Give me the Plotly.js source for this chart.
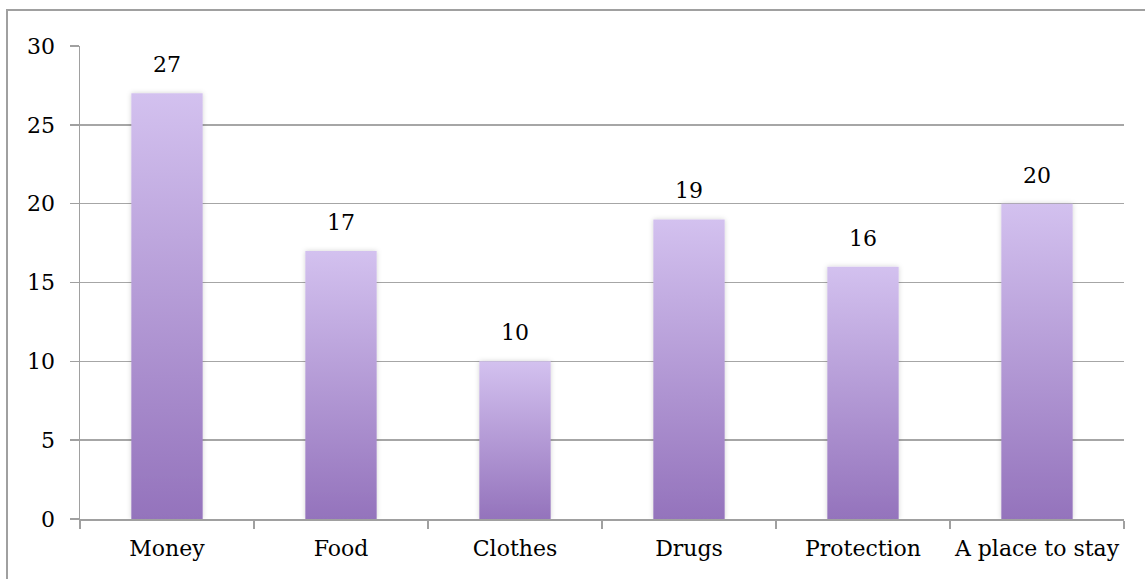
<!DOCTYPE html>
<html>
<head>
<meta charset="utf-8">
<script src="https://cdn.plot.ly/plotly-3.0.1.min.js"></script>
<style>
  html, body { margin: 0; padding: 0; background: #fff; }
  #wrap { position: relative; width: 1145px; height: 579px; overflow: hidden; }
  #frame { position: absolute; left: 6px; top: 9px; width: 1200px; height: 700px;
           border-left: 2px solid #a0a0a0; border-top: 2px solid #a0a0a0; pointer-events: none; }
  #chart { position: absolute; left: 0; top: 0; width: 1145px; height: 579px; }
</style>
</head>
<body>
<div id="wrap">
  <div id="chart"></div>
  <div id="frame"></div>
</div>
<script>
// Needs reported, by category
const categories = ["Money", "Food", "Clothes", "Drugs", "Protection", "A place to stay"];
const counts = [27, 17, 10, 19, 16, 20];
const yTicks = [0, 5, 10, 15, 20, 25, 30];

const FONT = "DejaVu Serif, Liberation Serif, serif";
const FS = 22;

const trace = {
  type: "bar",
  x: categories,
  y: counts,
  width: 0.41,
  marker: { color: "#b39ddb", line: { width: 0 } },
  hoverinfo: "x+y"
};

const annotations = categories.map((c, i) => ({
  x: c, y: counts[i], text: String(counts[i]),
  showarrow: false, yanchor: "bottom", yshift: 14,
  font: { family: FONT, size: FS, color: "#000" }
}));

const layout = {
  width: 1145, height: 579,
  margin: { l: 80, r: 21, t: 46, b: 60 },
  paper_bgcolor: "rgba(0,0,0,0)",
  plot_bgcolor: "rgba(0,0,0,0)",
  showlegend: false,
  font: { family: FONT, size: FS, color: "#000" },
  xaxis: {
    type: "category",
    showgrid: false,
    showline: true, linecolor: "#a0a0a0", linewidth: 1.5,
    ticks: "outside", tickson: "boundaries", ticklen: 8, tickcolor: "#a0a0a0", tickwidth: 1.5,
    tickangle: 0,
    ticklabelstandoff: 9,
    tickfont: { family: FONT, size: FS, color: "#000" },
    fixedrange: true
  },
  yaxis: {
    range: [0, 30],
    tickvals: yTicks,
    showgrid: true, gridcolor: "#a6a6a6", gridwidth: 1.5,
    zeroline: false,
    showline: true, linecolor: "#a0a0a0", linewidth: 1.5,
    ticks: "outside", ticklen: 9, tickcolor: "#a0a0a0", tickwidth: 1.5,
    ticklabelstandoff: 10,
    tickfont: { family: FONT, size: FS, color: "#000" },
    fixedrange: true
  },
  annotations: annotations,
  bargap: 0.59
};

Plotly.newPlot("chart", [trace], layout, { displayModeBar: false, staticPlot: true }).then(gd => {
  // Vertical lavender gradient and soft shadow on every bar
  const svg = gd.querySelector("svg.main-svg");
  const ns = "http://www.w3.org/2000/svg";
  let defs = svg.querySelector("defs");
  if (!defs) { defs = document.createElementNS(ns, "defs"); svg.insertBefore(defs, svg.firstChild); }
  const grad = document.createElementNS(ns, "linearGradient");
  grad.setAttribute("id", "barGrad");
  grad.setAttribute("x1", "0"); grad.setAttribute("y1", "0");
  grad.setAttribute("x2", "0"); grad.setAttribute("y2", "1");
  [["0", "#d3c1ef"], ["1", "#9473bc"]].forEach(([o, c]) => {
    const s = document.createElementNS(ns, "stop");
    s.setAttribute("offset", o); s.setAttribute("stop-color", c);
    grad.appendChild(s);
  });
  defs.appendChild(grad);
  const filt = document.createElementNS(ns, "filter");
  filt.setAttribute("id", "barShadow");
  filt.setAttribute("x", "-20%"); filt.setAttribute("y", "-5%");
  filt.setAttribute("width", "140%"); filt.setAttribute("height", "110%");
  const fe = document.createElementNS(ns, "feDropShadow");
  fe.setAttribute("dx", "0"); fe.setAttribute("dy", "0");
  fe.setAttribute("stdDeviation", "2.5");
  fe.setAttribute("flood-color", "#000"); fe.setAttribute("flood-opacity", "0.18");
  filt.appendChild(fe);
  defs.appendChild(filt);
  gd.querySelectorAll(".barlayer .point path").forEach(p => {
    p.style.fill = "url(#barGrad)";
    p.setAttribute("filter", "url(#barShadow)");
  });
});
</script>
</body>
</html>
